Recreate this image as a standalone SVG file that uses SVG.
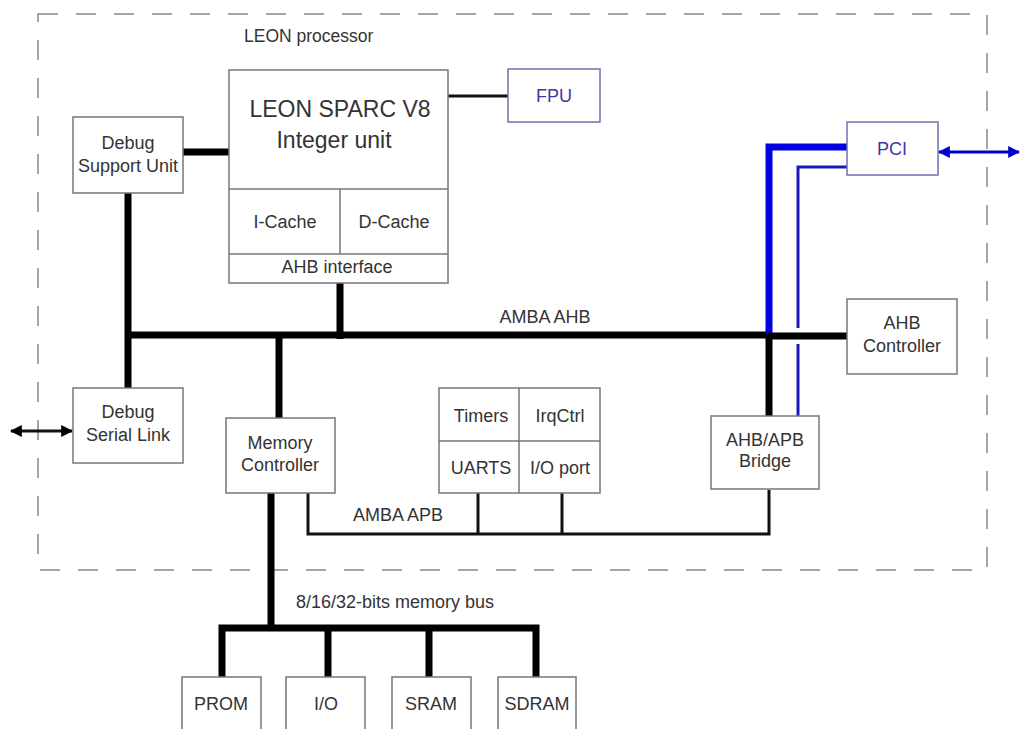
<svg xmlns="http://www.w3.org/2000/svg" width="1020" height="729" viewBox="0 0 1020 729">
<defs>
<style>
.box{fill:#fff;stroke:#777;stroke-width:1.5}
.bbox{fill:#fff;stroke:#7070b0;stroke-width:1.5}
.t{font-family:"Liberation Sans",Arial,sans-serif;font-size:18px;fill:#333;text-anchor:middle}
.tb{font-family:"Liberation Sans",Arial,sans-serif;font-size:18px;fill:#3a3aa8;text-anchor:middle}
.bus{stroke:#000;stroke-width:7;fill:none}
.thin{stroke:#111;stroke-width:3;fill:none}
</style>
<marker id="ak" viewBox="0 0 10 10" refX="9" refY="5" markerWidth="4" markerHeight="4" orient="auto-start-reverse"><path d="M0,0 L10,5 L0,10 z" fill="#000"/></marker>
<marker id="ab" viewBox="0 0 10 10" refX="9" refY="5" markerWidth="4" markerHeight="4" orient="auto-start-reverse"><path d="M0,0 L10,5 L0,10 z" fill="#0000cc"/></marker>
</defs>
<rect width="1020" height="729" fill="#fff"/>
<rect x="38" y="14" width="949" height="556" fill="none" stroke="#888" stroke-width="1.5" stroke-dasharray="20,18"/>
<text class="t" x="244" y="42" style="text-anchor:start;font-size:17.5px">LEON processor</text>
<g id="connectors">
<line class="bus" x1="183" y1="152" x2="229" y2="152"/>
<line class="bus" x1="128" y1="193" x2="128" y2="388"/>
<line class="bus" x1="128" y1="335" x2="772" y2="335"/>
<line class="bus" x1="340" y1="283" x2="340" y2="339"/>
<line class="bus" x1="279" y1="335" x2="279" y2="418"/>
<line class="thin" x1="448" y1="96" x2="508" y2="96"/>
<path d="M769,335 V147 H847" fill="none" stroke="#0000e0" stroke-width="7"/>
<path d="M798,416 V167 H847" fill="none" stroke="#1a1ab8" stroke-width="3"/>
<line x1="775" y1="336" x2="847" y2="336" stroke="#fff" stroke-width="16"/>
<line class="bus" x1="768" y1="336" x2="847" y2="336"/>
<line class="bus" x1="769" y1="334" x2="769" y2="416"/>
<line class="thin" x1="11" y1="431" x2="72" y2="431" marker-start="url(#ak)" marker-end="url(#ak)"/>
<line x1="939" y1="152" x2="1019" y2="152" stroke="#0000cc" stroke-width="3" marker-start="url(#ab)" marker-end="url(#ab)"/>
<path class="thin" d="M308,493 V534 H769 V490"/>
<line class="thin" x1="478" y1="493" x2="478" y2="534"/>
<line class="thin" x1="562" y1="493" x2="562" y2="534"/>
<line class="bus" x1="271" y1="493" x2="271" y2="628"/>
<path class="bus" d="M222,677 V628 H536 V677"/>
<line class="bus" x1="328" y1="628" x2="328" y2="677"/>
<line class="bus" x1="429" y1="628" x2="429" y2="677"/>
</g>
<text class="t" x="545" y="323">AMBA AHB</text>
<text class="t" x="398" y="521">AMBA APB</text>
<text class="t" x="395" y="608">8/16/32-bits memory bus</text>
<g id="leon">
<rect class="box" x="229" y="70" width="219" height="213"/>
<line class="box" x1="229" y1="189" x2="448" y2="189"/>
<line class="box" x1="229" y1="254" x2="448" y2="254"/>
<line class="box" x1="340" y1="189" x2="340" y2="254"/>
<text class="t" x="340" y="117" style="font-size:23px">LEON SPARC V8</text>
<text class="t" x="334" y="148" style="font-size:23px">Integer unit</text>
<text class="t" x="285" y="228">I-Cache</text>
<text class="t" x="394" y="228">D-Cache</text>
<text class="t" x="337" y="273">AHB interface</text>
</g>
<g id="fpu"><rect class="bbox" x="508" y="69" width="92" height="53"/><text class="tb" x="554" y="102">FPU</text></g>
<g id="dsu"><rect class="box" x="73" y="117" width="110" height="76"/><text class="t" x="128" y="149">Debug</text><text class="t" x="128" y="172">Support Unit</text></g>
<g id="dsl"><rect class="box" x="73" y="388" width="110" height="75"/><text class="t" x="128" y="418">Debug</text><text class="t" x="128" y="441">Serial Link</text></g>
<g id="memctrl"><rect class="box" x="226" y="418" width="109" height="75"/><text class="t" x="280" y="449">Memory</text><text class="t" x="280" y="471">Controller</text></g>
<g id="periph">
<rect class="box" x="439" y="388" width="161" height="105"/>
<line class="box" x1="439" y1="441" x2="600" y2="441"/>
<line class="box" x1="519" y1="388" x2="519" y2="493"/>
<text class="t" x="481" y="422">Timers</text>
<text class="t" x="560" y="422">IrqCtrl</text>
<text class="t" x="481" y="474">UARTS</text>
<text class="t" x="560" y="474">I/O port</text>
</g>
<g id="bridge"><rect class="box" x="711" y="416" width="108" height="73"/><text class="t" x="765" y="446">AHB/APB</text><text class="t" x="765" y="467">Bridge</text></g>
<g id="pci"><rect class="bbox" x="847" y="122" width="91" height="53"/><text class="tb" x="892" y="155">PCI</text></g>
<g id="ahbctrl"><rect class="box" x="847" y="299" width="110" height="75"/><text class="t" x="902" y="329">AHB</text><text class="t" x="902" y="352">Controller</text></g>
<g id="prom"><rect class="box" x="182" y="677" width="79" height="60"/><text class="t" x="221" y="710">PROM</text></g>
<g id="io"><rect class="box" x="286" y="677" width="79" height="60"/><text class="t" x="326" y="710">I/O</text></g>
<g id="sram"><rect class="box" x="392" y="677" width="79" height="60"/><text class="t" x="431" y="710">SRAM</text></g>
<g id="sdram"><rect class="box" x="498" y="677" width="78" height="60"/><text class="t" x="537" y="710">SDRAM</text></g>
</svg>
